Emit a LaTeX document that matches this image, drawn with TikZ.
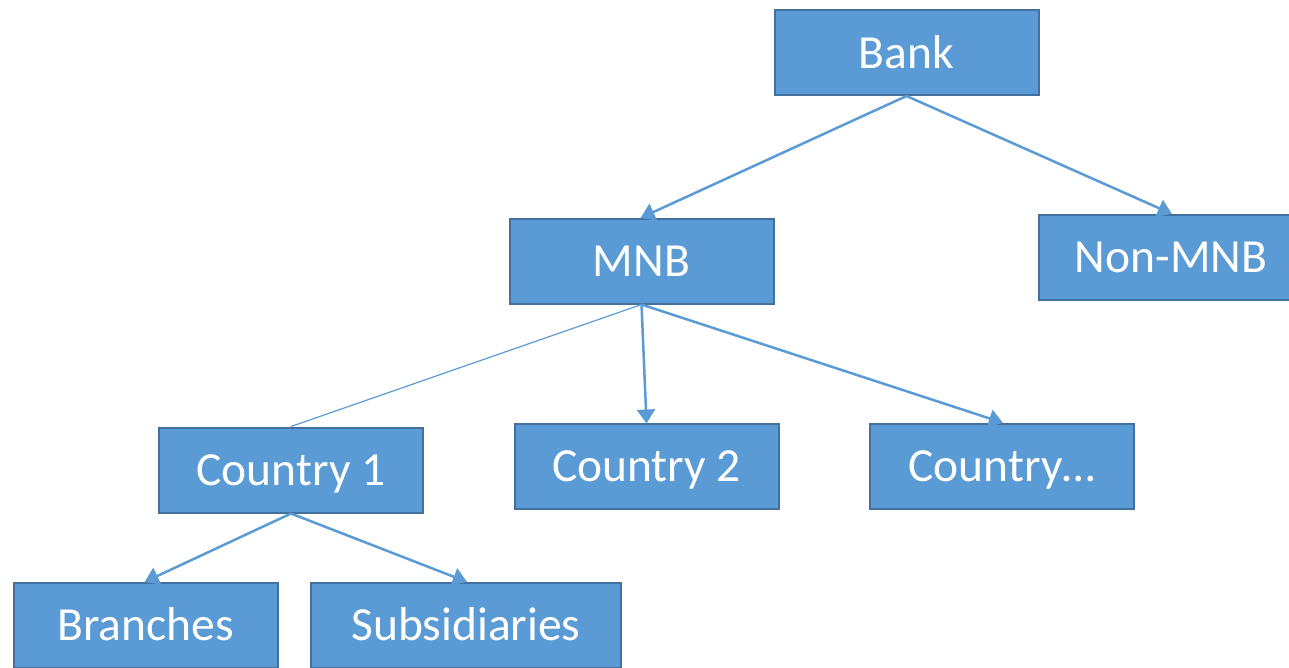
\documentclass[tikz,border=0pt]{standalone}
\usepackage{fontspec}
\setmainfont{Carlito}
\usetikzlibrary{arrows.meta}
\definecolor{boxfill}{HTML}{5B9BD5}
\definecolor{boxedge}{HTML}{41719C}
\begin{document}
\begin{tikzpicture}[x=1pt,y=-1pt,
  orgbox/.style={draw=boxedge, fill=boxfill, line width=2pt, inner sep=0pt,
    minimum width=264pt, minimum height=85pt, text=white,
    font=\fontsize{47.5}{52}\selectfont, text height=31pt, text depth=0pt},
  link/.style={draw=boxfill, line width=2.5pt,
    -{Triangle[width=18pt,length=14pt]}, shorten >=-1pt},
  thinlink/.style={draw=boxfill, line width=1.2pt}]
\useasboundingbox (0,0) rectangle (1289,667);
\clip (0,0) rectangle (1289,667);

\node[orgbox] (bank)     at (906.5,52.5) {Bank};
\node[orgbox] (mnb)      at (641.5,261)  {MNB};
\node[orgbox] (nonmnb)   at (1171,257)   {Non-MNB};
\node[orgbox] (c1)       at (291,470)    {Country 1};
\node[orgbox] (c2)       at (646.5,466)  {Country 2};
\node[orgbox] (c3)       at (1002,466)   {Country…};
\node[orgbox] (branches) at (145.5,625)  {Branches};
\node[orgbox, minimum width=310pt] (subs) at (466,625) {Subsidiaries};

\draw[link] (bank.south) -- (mnb.north);
\draw[link] (bank.south) -- (nonmnb.north);
\draw[thinlink] (mnb.south) -- (c1.north);
\draw[link] (mnb.south) -- (c2.north);
\draw[link] (mnb.south) -- (c3.north);
\draw[link] (c1.south) -- (branches.north);
\draw[link] (c1.south) -- (subs.north);
\end{tikzpicture}
\end{document}
